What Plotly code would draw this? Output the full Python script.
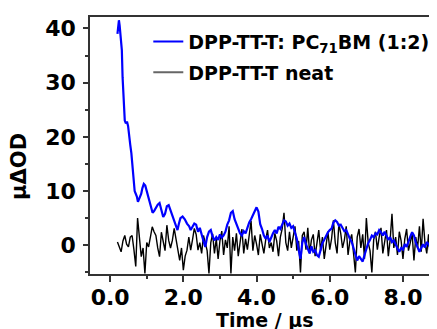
import numpy as np
import plotly.graph_objects as go

# ---- data ----
blend_t_early = [0.20,0.22,0.24,0.26,0.28,0.30,0.32,0.34,0.36,0.38,0.40,0.43,0.46,0.49,0.52,0.55,0.58,0.61,
                 0.64,0.67,0.70,0.73,0.76,0.79,0.82,0.85,0.88,0.92,0.96,1.00,1.04,1.08,1.12,1.16,1.20,1.25,
                 1.30,1.35,1.40,1.45,1.50,1.55,1.60,1.65,1.70,1.75,1.80,1.84,1.88,1.92,1.98,2.04,2.10,2.16,
                 2.20,2.25,2.30,2.35,2.40,2.45]
blend_v_early = [39.0,40.5,41.5,40.5,39.0,37.5,36.0,31.0,27.0,25.0,23.0,22.5,22.8,22.0,19.5,18.5,17.0,15.0,
                 12.0,10.0,9.5,9.0,8.0,8.5,9.0,9.5,10.5,11.3,11.0,10.0,9.0,8.0,7.0,6.0,6.3,7.0,
                 7.5,7.8,6.5,5.2,5.8,7.2,7.4,6.5,5.5,4.5,3.5,2.8,4.0,5.0,5.3,4.8,4.0,3.5,
                 2.8,3.5,4.0,3.8,2.5,3.2]
# tail sampled every 0.05 us from 2.50 to 8.90
blend_v_tail = [1.8,0.8,-0.3,1.5,2.5,2.8,1.6,0.9,1.5,1.0,
                2.0,1.4,1.8,2.5,3.8,4.6,6.0,6.3,4.8,4.0,
                3.0,2.2,1.8,2.6,2.2,3.4,4.2,4.8,5.6,6.2,
                7.0,6.2,3.9,3.0,1.8,1.2,1.8,0.6,1.5,2.2,
                2.8,2.2,3.4,3.0,3.8,4.6,4.4,3.6,4.0,3.2,
                3.5,2.1,1.2,-0.8,-2.5,0.5,1.5,0.2,-0.5,-1.5,
                -0.2,-1.2,-0.9,-1.8,-2.1,-0.8,0.4,1.0,1.8,2.4,
                2.8,3.1,4.2,4.6,4.3,3.6,3.8,3.2,2.6,2.8,
                1.8,1.2,0.6,-0.5,-1.8,-2.8,-2.0,-2.5,-3.0,-1.8,
                -0.5,0.4,1.0,1.8,1.5,2.2,2.0,2.8,2.4,1.8,
                2.5,1.8,1.0,1.5,0.6,0.9,0.0,-0.6,-1.2,-0.5,
                -0.8,0.2,-0.3,0.8,1.6,2.4,1.8,0.5,-0.3,-1.2,
                -0.5,0.2,-0.4,0.6,0.2,-0.5,0.3,-0.9,1.5]
# neat film sampled every 0.05 us from 0.20 to 8.90
neat_v = [0.6,-0.5,-1.2,0.8,1.8,0.2,-0.3,1.5,1.8,-0.8,
          -3.9,5.0,1.0,-2.1,-0.5,-5.2,0.5,-0.3,1.5,3.4,
          2.5,1.8,-0.5,-2.1,2.4,0.3,-1.0,3.7,0.9,-0.5,
          0.9,3.1,1.0,-1.5,-2.8,-0.5,-4.6,-2.0,-0.9,1.5,
          -0.9,1.0,3.1,2.0,-0.9,0.5,-1.5,1.8,0.5,-1.0,
          -5.2,0.5,2.1,-1.5,1.2,-2.5,0.8,2.6,-1.8,1.0,
          -0.5,3.5,-5.2,1.5,-1.0,2.2,-2.0,0.8,3.0,-1.5,
          1.2,-0.8,2.5,4.5,-1.0,1.8,0.2,-1.8,2.0,0.5,
          -1.5,1.0,2.8,-0.5,0.5,-1.2,2.2,0.8,-2.0,1.5,
          3.0,6.0,0.5,-1.0,2.5,-0.5,1.2,3.5,-1.0,0.8,
          -5.0,1.8,2.5,-0.8,3.2,-1.5,1.0,2.0,-2.0,0.5,
          2.8,-1.0,1.5,-2.5,0.5,2.5,-0.8,1.2,4.6,0.5,
          -1.5,4.0,2.2,-0.5,1.0,3.5,-1.8,0.8,2.0,-1.0,
          -5.0,1.5,3.0,-0.5,2.0,-2.5,5.0,0.5,-1.0,-5.0,
          1.0,2.5,-0.8,1.5,3.2,-1.5,0.5,2.8,-2.0,1.0,
          5.8,-0.5,1.5,-1.8,2.5,0.8,-2.5,1.2,3.0,-1.0,
          0.5,2.2,-2.8,1.5,-0.5,3.5,-1.2,4.9,0.5,-1.5,
          2.0,-3.0,1.5,3.5,-0.5]
x_ticks = [0, 2, 4, 6, 8]
x_ticklabels = ["0.0", "2.0", "4.0", "6.0", "8.0"]
y_ticks = [0, 10, 20, 30, 40]

blend_t_tail = list(np.round(2.50 + 0.05 * np.arange(len(blend_v_tail)), 2))
neat_t = list(np.round(0.20 + 0.05 * np.arange(len(neat_v)), 2))
blend_t = blend_t_early + blend_t_tail
blend_v = blend_v_early + blend_v_tail

FONT = "DejaVu Sans, Liberation Sans, Arial, sans-serif"

fig = go.Figure()
fig.add_trace(go.Scatter(x=neat_t, y=neat_v, mode="lines", line=dict(color="black", width=1.4),
                         showlegend=False))
fig.add_trace(go.Scatter(x=blend_t, y=blend_v, mode="lines", line=dict(color="#0000ff", width=2.2),
                         showlegend=False))
# legend entries
fig.add_trace(go.Scatter(x=[None], y=[None], mode="lines", line=dict(color="#0000ff", width=2),
                         name="DPP-TT-T: PC<sub>71</sub>BM (1:2)", legendgroup="a"))
fig.add_trace(go.Scatter(x=[None], y=[None], mode="lines", line=dict(color="#666666", width=2),
                         name="DPP-TT-T neat", legendgroup="b"))

# page body has an 8px default margin, so the figure is sized/offset to fill 437x329
fig.update_layout(
    width=429, height=321,
    margin=dict(l=82, r=0, t=9, b=55),
    plot_bgcolor="white", paper_bgcolor="white",
    font=dict(family=FONT, color="black"),
    legend=dict(x=0.168, y=0.978, xanchor="left", yanchor="top", bgcolor="rgba(0,0,0,0)",
                font=dict(size=19, family=FONT, weight="bold"), tracegroupgap=3,
                itemwidth=30),
    xaxis=dict(range=[-0.55, 8.93], tickvals=x_ticks, ticktext=x_ticklabels,
               ticks="outside", ticklen=6, tickwidth=1.5, tickcolor="#333",
               minor=dict(dtick=1, tick0=1, ticks="outside", ticklen=3, tickwidth=1.5, tickcolor="#333"),
               showline=True, linecolor="#333", linewidth=1.5, mirror=True,
               showgrid=False, zeroline=False, ticklabelstandoff=-3,
               tickfont=dict(size=22, family=FONT, weight="bold")),
    yaxis=dict(range=[-5.3, 42.1], tickvals=y_ticks,
               ticks="outside", ticklen=5, tickwidth=1.5, tickcolor="#333",
               minor=dict(dtick=5, tick0=5, ticks="outside", ticklen=3, tickwidth=1.5, tickcolor="#333"),
               showline=True, linecolor="#333", linewidth=1.5,
               showgrid=False, zeroline=False, ticklabelstandoff=3,
               tickfont=dict(size=22, family=FONT, weight="bold")),
)
fig.add_annotation(text="μΔOD", xref="paper", yref="paper", x=-0.205, y=0.42, textangle=-90,
                   showarrow=False, xanchor="center", yanchor="middle",
                   font=dict(size=21, family=FONT, weight="bold"))
fig.add_annotation(text="Time / μs", xref="paper", yref="paper", x=0.504, y=-0.128,
                   showarrow=False, xanchor="center", yanchor="top",
                   font=dict(size=19, family=FONT, weight="bold"))
fig.write_html("out.html")
